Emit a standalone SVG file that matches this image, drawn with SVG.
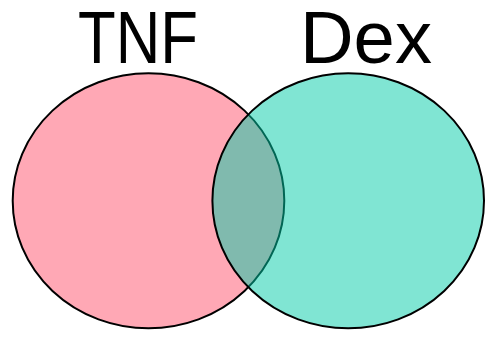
<svg xmlns="http://www.w3.org/2000/svg" width="491" height="339" viewBox="0 0 491 339">
  <style>
    .set { stroke: #000; stroke-width: 2; }
    .label { font-family: "Liberation Sans", Arial, sans-serif; font-size: 74px; fill: #000; }
  </style>
  <rect width="491" height="339" fill="#fff"/>
  <g id="tnf">
    <ellipse class="set" cx="148.5" cy="200.8" rx="135.8" ry="127.5" fill="#FFA8B5"/>
    <text class="label" x="78" y="62.5" textLength="120" lengthAdjust="spacingAndGlyphs">TNF</text>
  </g>
  <g id="dex">
    <ellipse class="set" cx="348.2" cy="200.8" rx="135.8" ry="127.5" fill="rgb(1,203,167)" fill-opacity="0.5"/>
    <text class="label" x="300" y="62.5" textLength="132" lengthAdjust="spacingAndGlyphs">Dex</text>
  </g>
  <g id="connectors"/>
</svg>
